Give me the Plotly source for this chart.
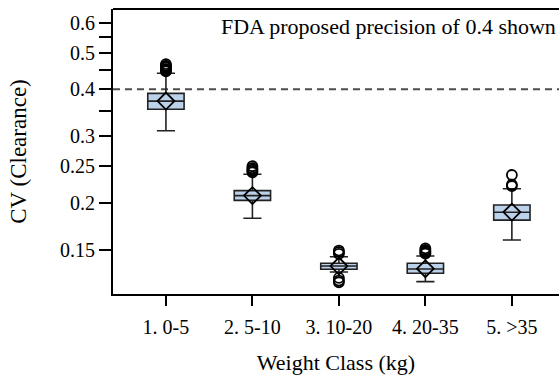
import plotly.graph_objects as go

# Weight classes and CV (clearance) box summaries
classes = ["1. 0-5", "2. 5-10", "3. 10-20", "4. 20-35", "5. >35"]
q1 = [0.354, 0.203, 0.1334, 0.1302, 0.180]
median = [0.372, 0.209, 0.1361, 0.1336, 0.1888]
q3 = [0.390, 0.2154, 0.1383, 0.1383, 0.1974]
lower_whisker = [0.3105, 0.182, 0.1311, 0.1237, 0.1594]
upper_whisker = [0.441, 0.238, 0.144, 0.1446, 0.218]
mean = [0.372, 0.209, 0.136, 0.1338, 0.189]

# Outlying CV values per class
outliers = {
    "1. 0-5": [0.446, 0.449, 0.452, 0.456, 0.459, 0.462, 0.466],
    "2. 5-10": [0.241, 0.243, 0.245, 0.247, 0.250],
    "3. 10-20": [0.1465, 0.148, 0.1495, 0.1265, 0.1245, 0.1232],
    "4. 20-35": [0.1468, 0.1478, 0.1488, 0.150, 0.1515],
    "5. >35": [0.2215, 0.2235, 0.237],
}

fda_precision = 0.4

y_ticks = [0.15, 0.2, 0.25, 0.3, 0.4, 0.5, 0.6]
y_tick_text = ["0.15", "0.2", "0.25", "0.3", "0.4", "0.5", "0.6"]
y_minor_ticks = [0.35, 0.45, 0.55]

FONT = "Liberation Serif"
LINE = "#222222"
FILL = "#bcd1ea"

fig = go.Figure()

fig.add_trace(go.Box(
    x=classes, q1=q1, median=median, q3=q3,
    lowerfence=lower_whisker, upperfence=upper_whisker,
    fillcolor=FILL, line=dict(color=LINE, width=1.6),
    width=0.42, whiskerwidth=0.5, boxpoints=False,
    showlegend=False, hoverinfo="skip",
))

ox, oy = [], []
for c in classes:
    for v in outliers[c]:
        ox.append(c)
        oy.append(v)
fig.add_trace(go.Scatter(
    x=ox, y=oy, mode="markers",
    marker=dict(symbol="circle-open", size=10, color="black", line=dict(width=1.8)),
    showlegend=False, hoverinfo="skip",
))

fig.add_trace(go.Scatter(
    x=classes, y=mean, mode="markers",
    marker=dict(symbol="diamond-open", size=13, color="black", line=dict(width=1.8)),
    showlegend=False, hoverinfo="skip",
))

# FDA precision reference line
fig.add_shape(
    type="line", xref="paper", x0=0, x1=1, yref="y", y0=fda_precision, y1=fda_precision,
    line=dict(color="#4d4d4d", width=2, dash="7px,5px"), layer="below",
)
# top frame edge
fig.add_shape(
    type="line", xref="paper", x0=0, x1=1, yref="paper", y0=1, y1=1,
    line=dict(color="black", width=2),
)

fig.add_annotation(
    text="FDA proposed precision of 0.4 shown",
    xref="paper", yref="paper", x=0.238, y=0.937,
    xanchor="left", yanchor="middle", showarrow=False,
    font=dict(family=FONT, size=22, color="black"),
)

fig.update_layout(
    width=559, height=375,
    margin=dict(l=113, r=0, t=9, b=81),
    paper_bgcolor="white", plot_bgcolor="white",
    font=dict(family=FONT, size=20, color="black"),
    xaxis=dict(
        type="category", range=[-0.612, 4.545],
        showline=True, linecolor="black", linewidth=2, mirror=False,
        ticks="outside", ticklen=10, tickwidth=2, tickcolor="black",
        ticklabelstandoff=4,
        showgrid=False, zeroline=False,
        tickfont=dict(family=FONT, size=20),
        title=dict(text="Weight Class (kg)", font=dict(family=FONT, size=22), standoff=18),
    ),
    yaxis=dict(
        type="log", range=[-0.9405, -0.1855],
        tickvals=y_ticks, ticktext=y_tick_text,
        showline=True, linecolor="black", linewidth=2, mirror=False,
        ticks="outside", ticklen=12, tickwidth=2, tickcolor="black",
        minor=dict(tickvals=y_minor_ticks, ticks="outside", ticklen=12,
                   tickwidth=2, tickcolor="black", showgrid=False),
        showgrid=False, zeroline=False,
        tickfont=dict(family=FONT, size=20),
        title=dict(text="CV (Clearance)", font=dict(family=FONT, size=23), standoff=27),
    ),
)

fig.write_html("out.html")
